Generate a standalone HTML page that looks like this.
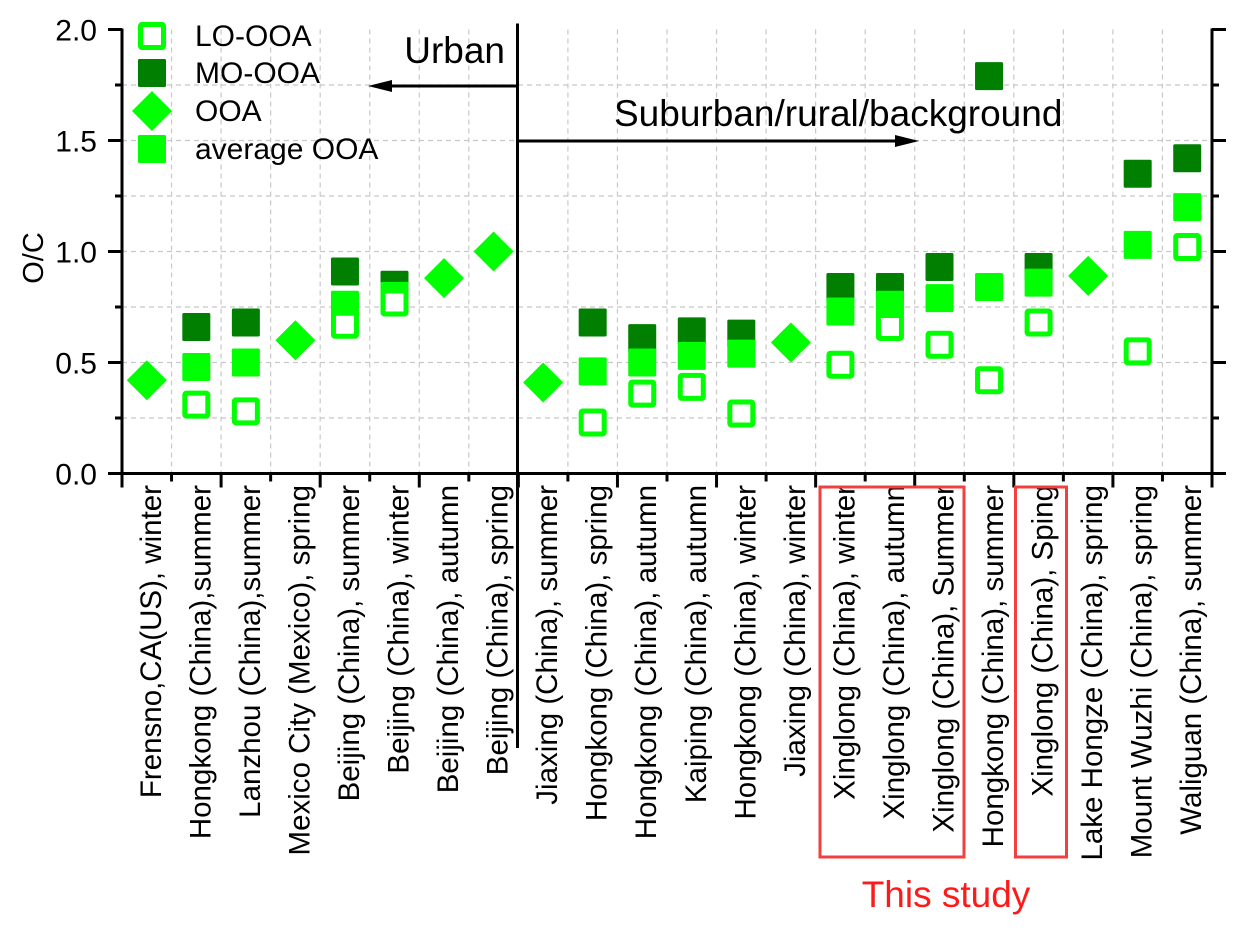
<!DOCTYPE html>
<html><head><meta charset="utf-8"><style>
body{margin:0;background:#fff}
svg{display:block;font-family:"Liberation Sans",Arial,sans-serif}
</style></head><body>
<svg id="chart" width="1246" height="934" viewBox="0 0 1246 934"></svg>
<script>
const categories=["Frensno,CA(US), winter","Hongkong (China),summer","Lanzhou (China),summer","Mexico City (Mexico), spring","Beijing (China), summer","Beijing (China), winter","Beijing (China), autumn","Beijing (China), spring","Jiaxing (China), summer","Hongkong (China), spring","Hongkong (China), autumn","Kaiping (China), autumn","Hongkong (China), winter","Jiaxing (China), winter","Xinglong (China), winter","Xinglong (China),  autumn","Xinglong (China), Summer","Hongkong (China), summer","Xinglong (China), Sping","Lake Hongze (China), spring","Mount Wuzhi (China), spring","Waliguan (China), summer"];
const moOOA=[null,0.66,0.68,null,0.91,0.85,null,null,null,0.68,0.61,0.64,0.63,null,0.84,0.84,0.93,1.79,0.93,null,1.35,1.42];
const avgOOA=[null,0.48,0.50,null,0.76,0.80,null,null,null,0.46,0.50,0.53,0.54,null,0.73,0.76,0.79,0.84,0.86,null,1.03,1.20];
const loOOA=[null,0.31,0.28,null,0.67,0.77,null,null,null,0.23,0.36,0.39,0.27,null,0.49,0.66,0.58,0.42,0.68,null,0.55,1.02];
const ooa=[0.42,null,null,0.60,null,null,0.88,1.00,0.41,null,null,null,null,0.59,null,null,null,null,null,0.89,null,null];
const yTicks=[0,0.5,1.0,1.5,2.0];
const yTickLabels=["0.0","0.5","1.0","1.5","2.0"];

const svg=document.getElementById('chart');
const NS='http://www.w3.org/2000/svg';
const L=122,R=1212,T=29.5,B=473.5;
const bw=(R-L)/categories.length;
const x=i=>L+bw*(i+0.5);
const y=v=>B-(v/2)*(B-T);
function mk(tag,a,parent){const e=document.createElementNS(NS,tag);for(const k in a)e.setAttribute(k,a[k]);(parent||svg).appendChild(e);return e;}

// grid
const grid=mk('g',{});


for(let v=0.25;v<2;v+=0.25){mk('line',{x1:L,x2:R,y1:y(v),y2:y(v),stroke:'#c8c8c8','stroke-dasharray':'5,4','stroke-width':1.2},grid);}
for(let i=1;i<categories.length;i++){const xx=L+bw*i;mk('line',{x1:xx,x2:xx,y1:T,y2:B,stroke:'#c8c8c8','stroke-dasharray':'5,4','stroke-width':1.2},grid);}

// axes
const ax=mk('g',{stroke:'#000','stroke-width':3,fill:'none'});


mk('line',{x1:L,x2:L,y1:T-1,y2:B+1.5},ax);
mk('line',{x1:R,x2:R,y1:T-1,y2:B+1.5},ax);
mk('line',{x1:L-1.5,x2:R+1.5,y1:B,y2:B},ax);
for(let k=0;k<=8;k++){const v=k*0.25;const len=(k%2==0)?14:7;
 mk('line',{x1:L-len,x2:L,y1:y(v),y2:y(v)},ax);
 mk('line',{x1:R,x2:R+len,y1:y(v),y2:y(v)},ax);}
for(let i=0;i<=categories.length;i++){const xx=L+bw*i;mk('line',{x1:xx,x2:xx,y1:B,y2:B+(i%2==0?14:8)},ax);}

// y labels
yTicks.forEach((v,k)=>{const t=mk('text',{x:97,y:y(v)+11,'text-anchor':'end','font-size':30});t.textContent=yTickLabels[k];

});
const yt=mk('text',{x:0,y:0,'font-size':29,'text-anchor':'middle',transform:'translate(43,258) rotate(-90)'});
yt.textContent='O/C';



// x labels
categories.forEach((c,i)=>{const t=mk('text',{x:0,y:0,'font-size':29.5,'text-anchor':'end',transform:`translate(${x(i)+14},485) rotate(-90)`});t.textContent=c;

});

// markers
const S=28;
function sq(cx,cy,fill,stroke){const e=mk('rect',{x:cx-S/2,y:cy-S/2,width:S,height:S,fill:fill,rx:1.5});if(stroke){e.setAttribute('x',cx-S/2+2.5);e.setAttribute('y',cy-S/2+2.5);e.setAttribute('width',S-5);e.setAttribute('height',S-5);e.setAttribute('fill','#fff');e.setAttribute('stroke',stroke);e.setAttribute('stroke-width',5);}return e;}
function dia(cx,cy){const r=20;return mk('polygon',{points:`${cx},${cy-r} ${cx+r},${cy} ${cx},${cy+r} ${cx-r},${cy}`,fill:'#00ff00'});}
categories.forEach((c,i)=>{
 if(moOOA[i]!=null){const e=sq(x(i),y(moOOA[i]),'#007f00');
  
  }
});
categories.forEach((c,i)=>{
 if(avgOOA[i]!=null){const e=sq(x(i),y(avgOOA[i]),'#00ff00');
  
  }
});
categories.forEach((c,i)=>{
 if(loOOA[i]!=null){const e=sq(x(i),y(loOOA[i]),'#fff','#00ff00');
  
  }
 if(ooa[i]!=null){const e=dia(x(i),y(ooa[i]));
  
  }
});

// legend
const lg=mk('g',{});


const legRows=[["LO-OOA",36],["MO-OOA",73],["OOA",111],["average OOA",149]];
legRows.forEach((r,k)=>{let e;
 if(k==0)e=sq(152,r[1],'#fff','#00ff00');else if(k==1)e=sq(152,r[1],'#007f00');else if(k==2)e=dia(152,r[1]);else e=sq(152,r[1],'#00ff00');
 lg.appendChild(e);
 const t=mk('text',{x:195,y:r[1]+10,'font-size':30},lg);t.textContent=r[0];
 
 });

// divider and arrows
const ann=mk('g',{});


mk('line',{x1:517.5,x2:517.5,y1:T-6,y2:748,stroke:'#000','stroke-width':3},ann);
mk('line',{x1:517.5,x2:390,y1:86,y2:86,stroke:'#000','stroke-width':3},ann);
mk('polygon',{points:'368,86 392,80 392,92',fill:'#000'},ann);
mk('line',{x1:517.5,x2:898,y1:141,y2:141,stroke:'#000','stroke-width':3},ann);
mk('polygon',{points:'919,141 895,135 895,147',fill:'#000'},ann);
let t=mk('text',{x:505,y:63,'font-size':37,'text-anchor':'end'},ann);t.textContent='Urban';
t=mk('text',{x:614,y:126,'font-size':37},ann);t.textContent='Suburban/rural/background';
mk('rect',{x:820,y:487,width:144,height:370,fill:'none',stroke:'#f24040','stroke-width':3},ann);
mk('rect',{x:1015.5,y:487,width:51,height:370,fill:'none',stroke:'#f24040','stroke-width':3},ann);
t=mk('text',{x:946,y:907,'font-size':37,'text-anchor':'middle',fill:'#ff1a1a'},ann);t.textContent='This study';


</script>
</body></html>
